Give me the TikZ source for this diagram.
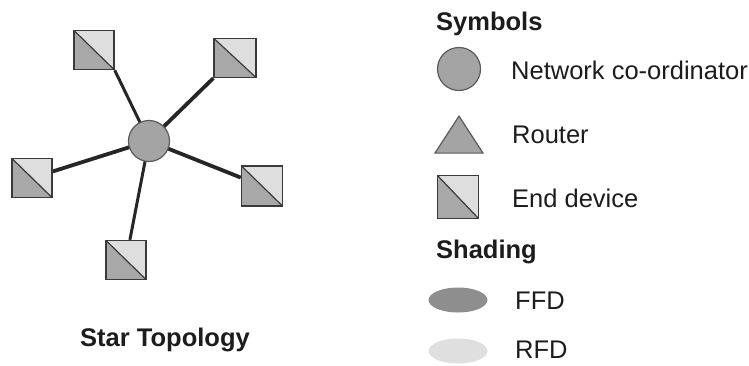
\documentclass[tikz,border=0pt]{standalone}
\usepackage{fontspec}
\setmainfont{Liberation Sans}
\usetikzlibrary{shapes.geometric,backgrounds}
\definecolor{sqlight}{HTML}{DEDEDE}
\definecolor{sqdark}{HTML}{A8A8A8}
\definecolor{sqborder}{HTML}{3A3A3A}
\definecolor{hubfill}{HTML}{A4A4A4}
\definecolor{hubborder}{HTML}{5A5A5A}
\definecolor{linkcol}{HTML}{262626}
\definecolor{txtcol}{HTML}{1C1C1C}
\definecolor{ffdcol}{HTML}{8E8E8E}
\definecolor{rfdcol}{HTML}{DFDFDF}
\tikzset{
  enddev/.style={rectangle, minimum width=40pt, minimum height=39pt, inner sep=0pt,
    draw=sqborder, line width=1.4pt,
    path picture={
      \fill[sqlight] (path picture bounding box.north west) -- (path picture bounding box.north east) -- (path picture bounding box.south east) -- cycle;
      \fill[sqdark] (path picture bounding box.north west) -- (path picture bounding box.south west) -- (path picture bounding box.south east) -- cycle;
      \draw[sqborder, line width=1.2pt] (path picture bounding box.north west) -- (path picture bounding box.south east);
    }},
  hub/.style={circle, minimum size=41pt, inner sep=0pt, fill=hubfill, draw=hubborder, line width=1.2pt},
  link/.style={draw=linkcol, line width=3pt},
  thicklink/.style={draw=linkcol, line width=3.8pt},
  lbl/.style={anchor=west, inner sep=0pt, text=txtcol, font=\fontsize{25.5}{28}\selectfont},
  head/.style={anchor=west, inner sep=0pt, text=txtcol, font=\fontsize{25.5}{28}\selectfont\bfseries},
  shadeell/.style={ellipse, minimum width=59pt, minimum height=25pt, inner sep=0pt},
}
\begin{document}
\begin{tikzpicture}[x=1pt, y=-1pt]
\useasboundingbox (0,0) rectangle (749,365);
% star topology
\node[enddev] (s1) at (94,50) {};
\node[enddev, minimum width=42pt] (s2) at (235,58) {};
\node[enddev] (s3) at (32,178) {};
\node[enddev, minimum width=41pt, minimum height=40pt] (s4) at (262,186) {};
\node[enddev] (s5) at (126,260) {};
\node[hub] (hub) at (149,141) {};
\begin{scope}[on background layer]
\draw[link] (hub.center) -- (s1.south east);
\draw[thicklink] (hub.center) -- (s2.south west);
\draw[thicklink] (hub.center) -- (s3);
\draw[thicklink] (hub.center) -- (s4);
\draw[link] (hub.center) -- (s5);
\end{scope}
\node[anchor=center, inner sep=0pt, text=txtcol, font=\fontsize{25.5}{28}\selectfont\bfseries] (title) at (165,340) {Star Topology};
% legend
\node[head] (symh) at (436,24) {Symbols};
\node[circle, minimum size=43pt, inner sep=0pt, fill=hubfill, draw=hubborder, line width=1.2pt] (lcirc) at (459,69) {};
\node[lbl] (lcirct) at (511,70) {Network co-ordinator};
\node[isosceles triangle, isosceles triangle apex angle=66, shape border rotate=90, minimum height=37pt, inner sep=0pt, fill=hubfill, draw=hubborder, line width=1.2pt, anchor=apex] (ltri) at (459,115) {};
\node[lbl] (ltrit) at (512,135) {Router};
\node[enddev, minimum width=41pt, minimum height=43pt] (lsq) at (458,197) {};
\node[lbl] (lsqt) at (512,198) {End device};
\node[head] (shadh) at (436,252) {Shading};
\node[shadeell, fill=ffdcol] (lffd) at (458,300) {};
\node[lbl] (lffdt) at (515,301) {FFD};
\node[shadeell, fill=rfdcol] (lrfd) at (458,351) {};
\node[lbl] (lrfdt) at (515,350) {RFD};
\end{tikzpicture}
\end{document}
